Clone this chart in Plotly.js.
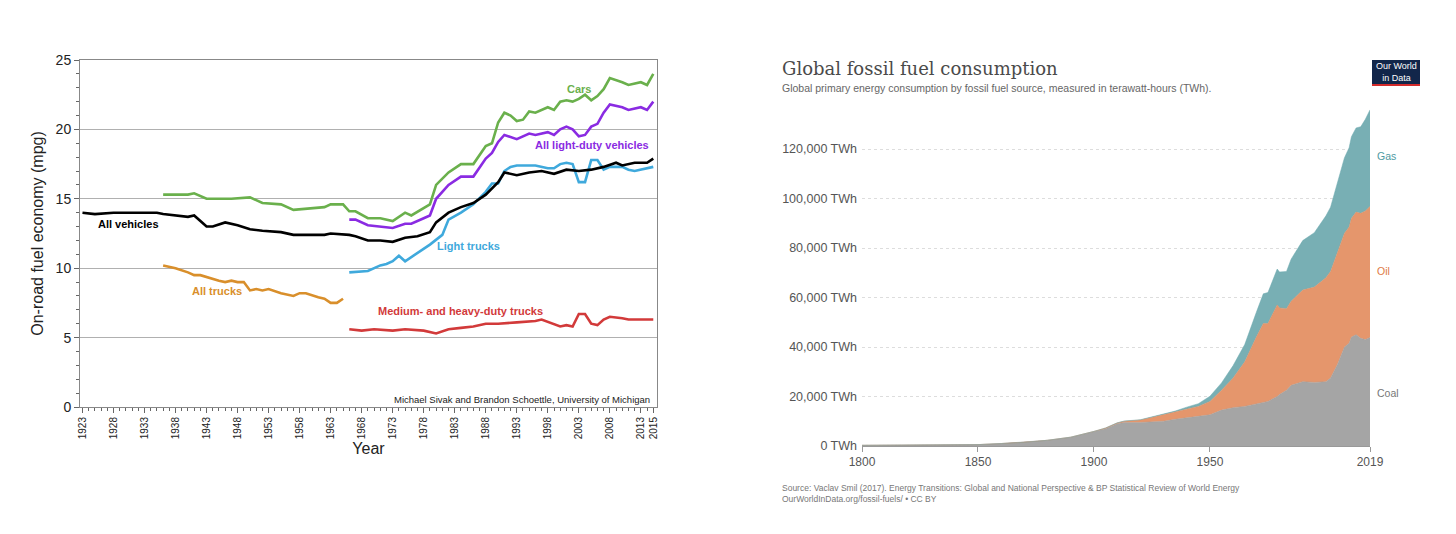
<!DOCTYPE html>
<html><head><meta charset="utf-8">
<script src="https://cdn.plot.ly/plotly-3.0.1.min.js"></script>
<style>html,body{margin:0;padding:0;background:#fff}#c{width:1456px;height:534px}</style>
</head><body><div id="c"></div>
<script>
// ---- Left chart: on-road fuel economy (mpg) ----
const allVehYears = [1923,1925,1928,1933,1935,1936,1940,1941,1943,1944,1946,1948,1950,1952,1955,1957,1962,1963,1966,1967,1969,1971,1973,1975,1977,1979,1980,1982,1984,1986,1988,1990,1991,1993,1995,1997,1999,2001,2003,2005,2007,2009,2010,2012,2014,2015];
const allVehMpg   = [14.0,13.9,14.0,14.0,14.0,13.9,13.7,13.8,13.0,13.0,13.3,13.1,12.8,12.7,12.6,12.4,12.4,12.5,12.4,12.3,12.0,12.0,11.9,12.2,12.3,12.6,13.3,14.0,14.4,14.7,15.3,16.2,16.9,16.7,16.9,17.0,16.8,17.1,17.0,17.1,17.3,17.6,17.4,17.6,17.6,17.9];
const carYears = [1936,1940,1941,1943,1947,1950,1952,1955,1957,1960,1962,1963,1965,1966,1967,1969,1971,1973,1975,1976,1978,1979,1980,1982,1984,1986,1988,1989,1990,1991,1992,1993,1994,1995,1996,1998,1999,2000,2001,2002,2003,2004,2005,2006,2007,2008,2010,2011,2013,2014,2015];
const carMpg   = [15.3,15.3,15.4,15.0,15.0,15.1,14.7,14.6,14.2,14.3,14.4,14.6,14.6,14.1,14.1,13.6,13.6,13.4,14.0,13.8,14.3,14.6,16.0,16.9,17.5,17.5,18.8,19.0,20.5,21.2,21.0,20.6,20.7,21.3,21.2,21.6,21.4,22.0,22.1,22.0,22.2,22.5,22.1,22.4,22.9,23.7,23.4,23.2,23.4,23.2,24.0];
const ldvYears = [1966,1967,1969,1971,1973,1975,1976,1978,1979,1980,1982,1984,1986,1988,1989,1990,1991,1993,1995,1996,1998,1999,2000,2001,2002,2003,2004,2005,2006,2007,2008,2010,2011,2013,2014,2015];
const ldvMpg   = [13.5,13.5,13.1,13.0,12.9,13.2,13.2,13.6,13.8,15.0,16.0,16.6,16.6,17.9,18.3,19.1,19.6,19.3,19.7,19.6,19.8,19.6,20.0,20.2,20.0,19.5,19.6,20.2,20.4,21.2,21.8,21.6,21.4,21.6,21.4,22.0];
const ltYears = [1966,1968,1969,1971,1972,1973,1974,1975,1977,1979,1981,1982,1984,1986,1988,1989,1990,1991,1992,1993,1996,1998,1999,2000,2001,2002,2003,2004,2005,2006,2007,2008,2010,2011,2012,2014,2015];
const ltMpg   = [9.7,9.8,9.8,10.2,10.3,10.5,10.9,10.5,11.1,11.7,12.4,13.5,14.0,14.6,15.5,16.1,16.1,17.0,17.3,17.4,17.4,17.2,17.2,17.5,17.6,17.5,16.2,16.2,17.8,17.8,17.1,17.3,17.3,17.1,17.0,17.2,17.3];
const trkYears = [1936,1937,1938,1940,1941,1942,1944,1945,1946,1947,1948,1949,1950,1951,1952,1953,1955,1957,1958,1959,1961,1962,1963,1964,1965];
const trkMpg   = [10.2,10.1,10.0,9.7,9.5,9.5,9.2,9.1,9.0,9.1,9.0,9.0,8.4,8.5,8.4,8.5,8.2,8.0,8.2,8.2,7.9,7.8,7.5,7.5,7.8];
const mhdYears = [1966,1968,1970,1973,1975,1978,1980,1982,1984,1986,1988,1990,1993,1996,1997,1999,2000,2001,2002,2003,2004,2005,2006,2007,2008,2010,2011,2013,2015];
const mhdMpg   = [5.6,5.5,5.6,5.5,5.6,5.5,5.3,5.6,5.7,5.8,6.0,6.0,6.1,6.2,6.3,6.0,5.8,5.9,5.8,6.7,6.7,6.0,5.9,6.3,6.5,6.4,6.3,6.3,6.3];
const mpgTickYears = [1923,1928,1933,1938,1943,1948,1953,1958,1963,1968,1973,1978,1983,1988,1993,1998,2003,2008,2013,2015];

// ---- Right chart: global fossil fuel consumption (TWh) ----
const energyYears = [1800,1810,1820,1830,1840,1850,1860,1870,1880,1890,1900,1905,1910,1913,1920,1925,1930,1935,1940,1945,1950,1955,1960,1965,1970,1973,1975,1979,1980,1983,1985,1990,1995,2000,2002,2005,2008,2010,2011,2013,2015,2017,2019];
const coalTWh = [280,320,380,440,500,560,1000,1500,2300,3500,5700,7000,9000,9500,9500,9800,10000,10800,11500,12000,12600,14500,15500,16000,17000,17500,18000,20000,20800,22500,24500,26000,25700,26000,27500,33000,40000,41500,44000,45000,43500,43000,43800];
const oilTWh  = [0,0,0,0,0,0,0,0,20,80,200,250,300,500,1000,1800,2500,2800,3500,4000,5400,8000,12000,18000,27000,32000,31500,37000,35000,33000,34000,37000,38500,42000,43000,45000,46000,47000,48000,49500,50500,52000,53000];
const gasTWh  = [0,0,0,0,0,0,0,0,0,0,0,30,60,80,120,250,400,500,700,1100,2100,3000,5000,7000,10000,12000,12500,14500,14500,15000,17000,20000,22000,25000,26000,28000,30500,32000,33000,34000,35000,37000,39000];
const energyTicks = [1800,1850,1900,1950,2019];
const twhTicks = [0,20000,40000,60000,80000,100000,120000];
const twhTickText = ['0 TWh','20,000 TWh','40,000 TWh','60,000 TWh','80,000 TWh','100,000 TWh','120,000 TWh'];

const L = (x,y,c)=>({x:x,y:y,mode:'lines',line:{color:c,width:2.6},xaxis:'x',yaxis:'y',hoverinfo:'skip'});
const A = (y,c,fill)=>({x:energyYears,y:y,mode:'lines',stackgroup:'e',line:{width:0.5,color:c},fillcolor:fill,xaxis:'x2',yaxis:'y2',hoverinfo:'skip'});
const traces = [
  L(carYears,carMpg,'#6ab04c'),
  L(ldvYears,ldvMpg,'#8a2be2'),
  L(ltYears,ltMpg,'#3fa9dc'),
  L(allVehYears,allVehMpg,'#000000'),
  L(trkYears,trkMpg,'#d98f2b'),
  L(mhdYears,mhdMpg,'#d23a3a'),
  A(coalTWh,'#9c9c9c','#a5a5a5'),
  A(oilTWh,'#e08a5c','#e5966c'),
  A(gasTWh,'#6aa8ae','#78afb4')
];
const F='"Liberation Sans", Arial, sans-serif';
const ann = (t,x,y,c,s,extra)=>Object.assign({text:t,x:x,y:y,xref:'paper',yref:'paper',showarrow:false,font:{family:F,size:s,color:c},xanchor:'left',yanchor:'middle'},extra||{});
const px=(v)=>v/1456, py=(v)=>1-v/534;
const layout = {
  width:1456,height:534,margin:{l:0,r:0,t:0,b:0},paper_bgcolor:'#fff',plot_bgcolor:'#fff',showlegend:false,
  xaxis:{domain:[px(80),px(657)],range:[1922.6,2015.6],tickvals:mpgTickYears,ticktext:mpgTickYears.map(String),tickangle:-90,
    tickfont:{family:F,size:10,color:'#222'},ticks:'outside',ticklen:5,tickcolor:'#666',
    minor:{dtick:1,tick0:1923,ticks:'outside',ticklen:3,tickcolor:'#666',showgrid:false},
    showgrid:false,zeroline:false,showline:true,linecolor:'#888',mirror:true,
    title:{text:'Year',font:{family:F,size:16,color:'#222'},standoff:4}},
  yaxis:{domain:[py(407),py(60)],range:[0,25],dtick:5,tickfont:{family:F,size:14,color:'#222'},ticks:'outside',ticklen:5,tickcolor:'#666',
    minor:{dtick:1,ticks:'outside',ticklen:3,tickcolor:'#666',showgrid:false},
    showgrid:true,gridcolor:'#b0b0b0',zeroline:false,showline:true,linecolor:'#888',mirror:true,
    title:{text:'On-road fuel economy (mpg)',font:{family:F,size:16,color:'#222'},standoff:8}},
  xaxis2:{domain:[px(862),px(1370)],range:[1800,2019],tickvals:energyTicks,ticktext:energyTicks.map(String),
    tickfont:{family:F,size:12,color:'#555'},ticks:'outside',ticklen:5,tickcolor:'#999',showgrid:false,zeroline:false,
    showline:true,linecolor:'#999',anchor:'y2'},
  yaxis2:{domain:[py(446),py(99.5)],range:[0,140000],tickvals:twhTicks,ticktext:twhTickText,
    tickfont:{family:F,size:12.5,color:'#555'},showgrid:true,gridcolor:'#ddd',griddash:'dot',
    zeroline:false,showline:false,anchor:'x2',ticklabelstandoff:4},
  shapes:[
    {type:'rect',xref:'paper',yref:'paper',x0:px(1372),x1:px(1420),y0:py(84),y1:py(60),fillcolor:'#12264a',line:{width:0}},
    {type:'rect',xref:'paper',yref:'paper',x0:px(1372),x1:px(1420),y0:py(86),y1:py(84),fillcolor:'#d42b2b',line:{width:0}}
  ],
  annotations:[
    ann('<b>Cars</b>',px(565),py(89),'#6ab04c',11),
    ann('<b>All light-duty vehicles</b>',px(533),py(145),'#8a2be2',11),
    ann('<b>Light trucks</b>',px(435),py(246),'#3fa9dc',11),
    ann('<b>All vehicles</b>',px(96),py(224),'#000',11),
    ann('<b>All trucks</b>',px(190),py(291),'#d98f2b',11),
    ann('<b>Medium- and heavy-duty trucks</b>',px(376),py(311),'#d23a3a',11),
    ann('Michael Sivak and Brandon Schoettle, University of Michigan',px(652),py(399),'#222',9.5,{xanchor:'right'}),
    ann('Global fossil fuel consumption',px(780),py(69),'#4a4a4a',19,{font:{family:'"DejaVu Serif", "Liberation Serif", serif',size:18,color:'#4a4a4a'}}),
    ann('Global primary energy consumption by fossil fuel source, measured in terawatt-hours (TWh).',px(780),py(88),'#666',10.5),
    ann('Our World<br>in Data',px(1396),py(72),'#fff',9,{xanchor:'center'}),
    ann('Gas',px(1375),py(156),'#4e9aa2',10.5),
    ann('Oil',px(1375),py(271),'#e07a45',10.5),
    ann('Coal',px(1375),py(393),'#777',10.5),
    ann('Source: Vaclav Smil (2017). Energy Transitions: Global and National Perspective &amp; BP Statistical Review of World Energy',px(780),py(488),'#777',8.5),
    ann('OurWorldInData.org/fossil-fuels/ • CC BY',px(780),py(499),'#777',8.5)
  ]
};
Plotly.newPlot('c',traces,layout,{staticPlot:true,displayModeBar:false});
</script></body></html>
